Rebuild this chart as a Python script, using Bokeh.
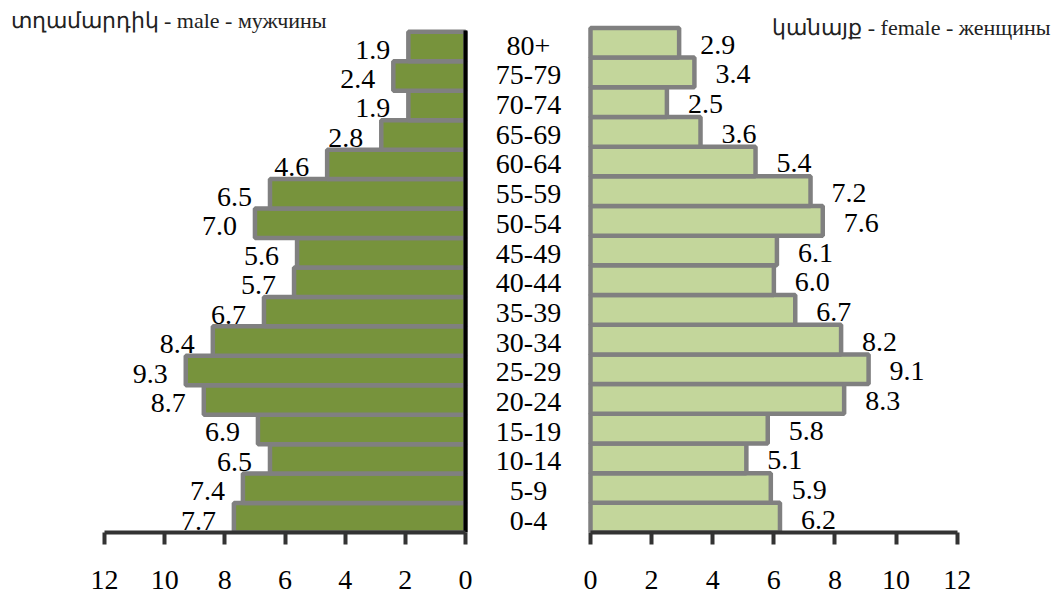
from bokeh.plotting import figure
from bokeh.models import ColumnDataSource, Range1d, FixedTicker, Label
from bokeh.layouts import row
from bokeh.core.properties import value
from bokeh.embed import file_html
from bokeh.resources import INLINE

# ---- data ----
ages = ["0-4", "5-9", "10-14", "15-19", "20-24", "25-29", "30-34", "35-39",
        "40-44", "45-49", "50-54", "55-59", "60-64", "65-69", "70-74", "75-79", "80+"]
male = [7.7, 7.4, 6.5, 6.9, 8.7, 9.3, 8.4, 6.7, 5.7, 5.6, 7.0, 6.5, 4.6, 2.8, 1.9, 2.4, 1.9]
female = [6.2, 5.9, 5.1, 5.8, 8.3, 9.1, 8.2, 6.7, 6.0, 6.1, 7.6, 7.2, 5.4, 3.6, 2.5, 3.4, 2.9]
ticks = [0, 2, 4, 6, 8, 10, 12]
male_title = "տղամարդիկ - male - мужчины"
female_title = "կանայք - female - женщины"

# ---- style ----
FONT = "Times"
TFONT = "Liberation Serif"
MALE_FILL = "#77933C"
FEMALE_FILL = "#C3D69B"
OUTLINE = "#808080"
AXIS = "#333333"
FS = "28px"

n = len(ages)
src = ColumnDataSource(dict(
    y=list(range(n)), age=ages, male=male, female=female,
    ml=[f"{v:.1f}" for v in male], fl=[f"{v:.1f}" for v in female]))

H = 598
WL = 478
WR = 580


def style_axis(p):
    ax = p.xaxis[0]
    ax.ticker = FixedTicker(ticks=ticks)
    ax.bounds = (min(ticks), max(ticks))
    ax.axis_line_width = 4
    ax.axis_line_color = AXIS
    ax.major_tick_line_width = 4
    ax.major_tick_line_color = AXIS
    ax.major_tick_out = 12
    ax.major_tick_in = 0
    ax.minor_tick_line_color = None
    ax.major_label_text_font = FONT
    ax.major_label_text_font_size = FS
    ax.major_label_text_color = "black"
    ax.major_label_standoff = 26
    p.grid.visible = False
    p.outline_line_color = None


common = dict(height=H, output_backend="svg", toolbar_location=None,
              y_axis_location=None, min_border_left=0, min_border_right=0,
              min_border_top=0, min_border_bottom=66)

# ---- male (left) ----
pl = figure(width=WL, x_range=Range1d(15.459, -0.432), y_range=Range1d(-0.5, 17.565), **common)
style_axis(pl)
pl.hbar(y="y", left=0, right="male", height=1, source=src,
        fill_color=MALE_FILL, line_color=OUTLINE, line_width=4.5)
pl.segment(x0=[0], y0=[-0.5], x1=[0], y1=[n - 0.45], line_color="black", line_width=4)
pl.text(x="male", y="y", text="ml", source=src, text_align="right", text_baseline="middle",
        x_offset=-18, y_offset=3, text_font=value(FONT), text_font_size=FS, text_color="black")
pl.add_layout(Label(x=10, y=512, x_units="screen", y_units="screen", text=male_title,
                    text_font=TFONT, text_font_size="22px", text_baseline="middle",
                    text_align="left", text_color="#222222"))

# ---- female (right) ----
pr = figure(width=WR, x_range=Range1d(-3.665, 15.314), y_range=Range1d(-0.5, 17.424), **common)
style_axis(pr)
pr.hbar(y="y", left=0, right="female", height=1, source=src,
        fill_color=FEMALE_FILL, line_color=OUTLINE, line_width=4.5)
pr.text(x="female", y="y", text="fl", source=src, text_align="left", text_baseline="middle",
        x_offset=21, y_offset=2, text_font=value(FONT), text_font_size=FS, text_color="black")
AGE_X = -2.03
pr.text(x=AGE_X, y="y", text="age", source=src, text_align="center", text_baseline="middle",
        y_offset=3, text_font=value(FONT), text_font_size=FS, text_color="black")
pr.add_layout(Label(x=WR - 8, y=505, x_units="screen", y_units="screen", text=female_title,
                    text_font=TFONT, text_font_size="22px", text_baseline="middle",
                    text_align="right", text_color="#222222"))

layout = row(pl, pr)
open("out.html", "w").write(file_html(layout, INLINE))
